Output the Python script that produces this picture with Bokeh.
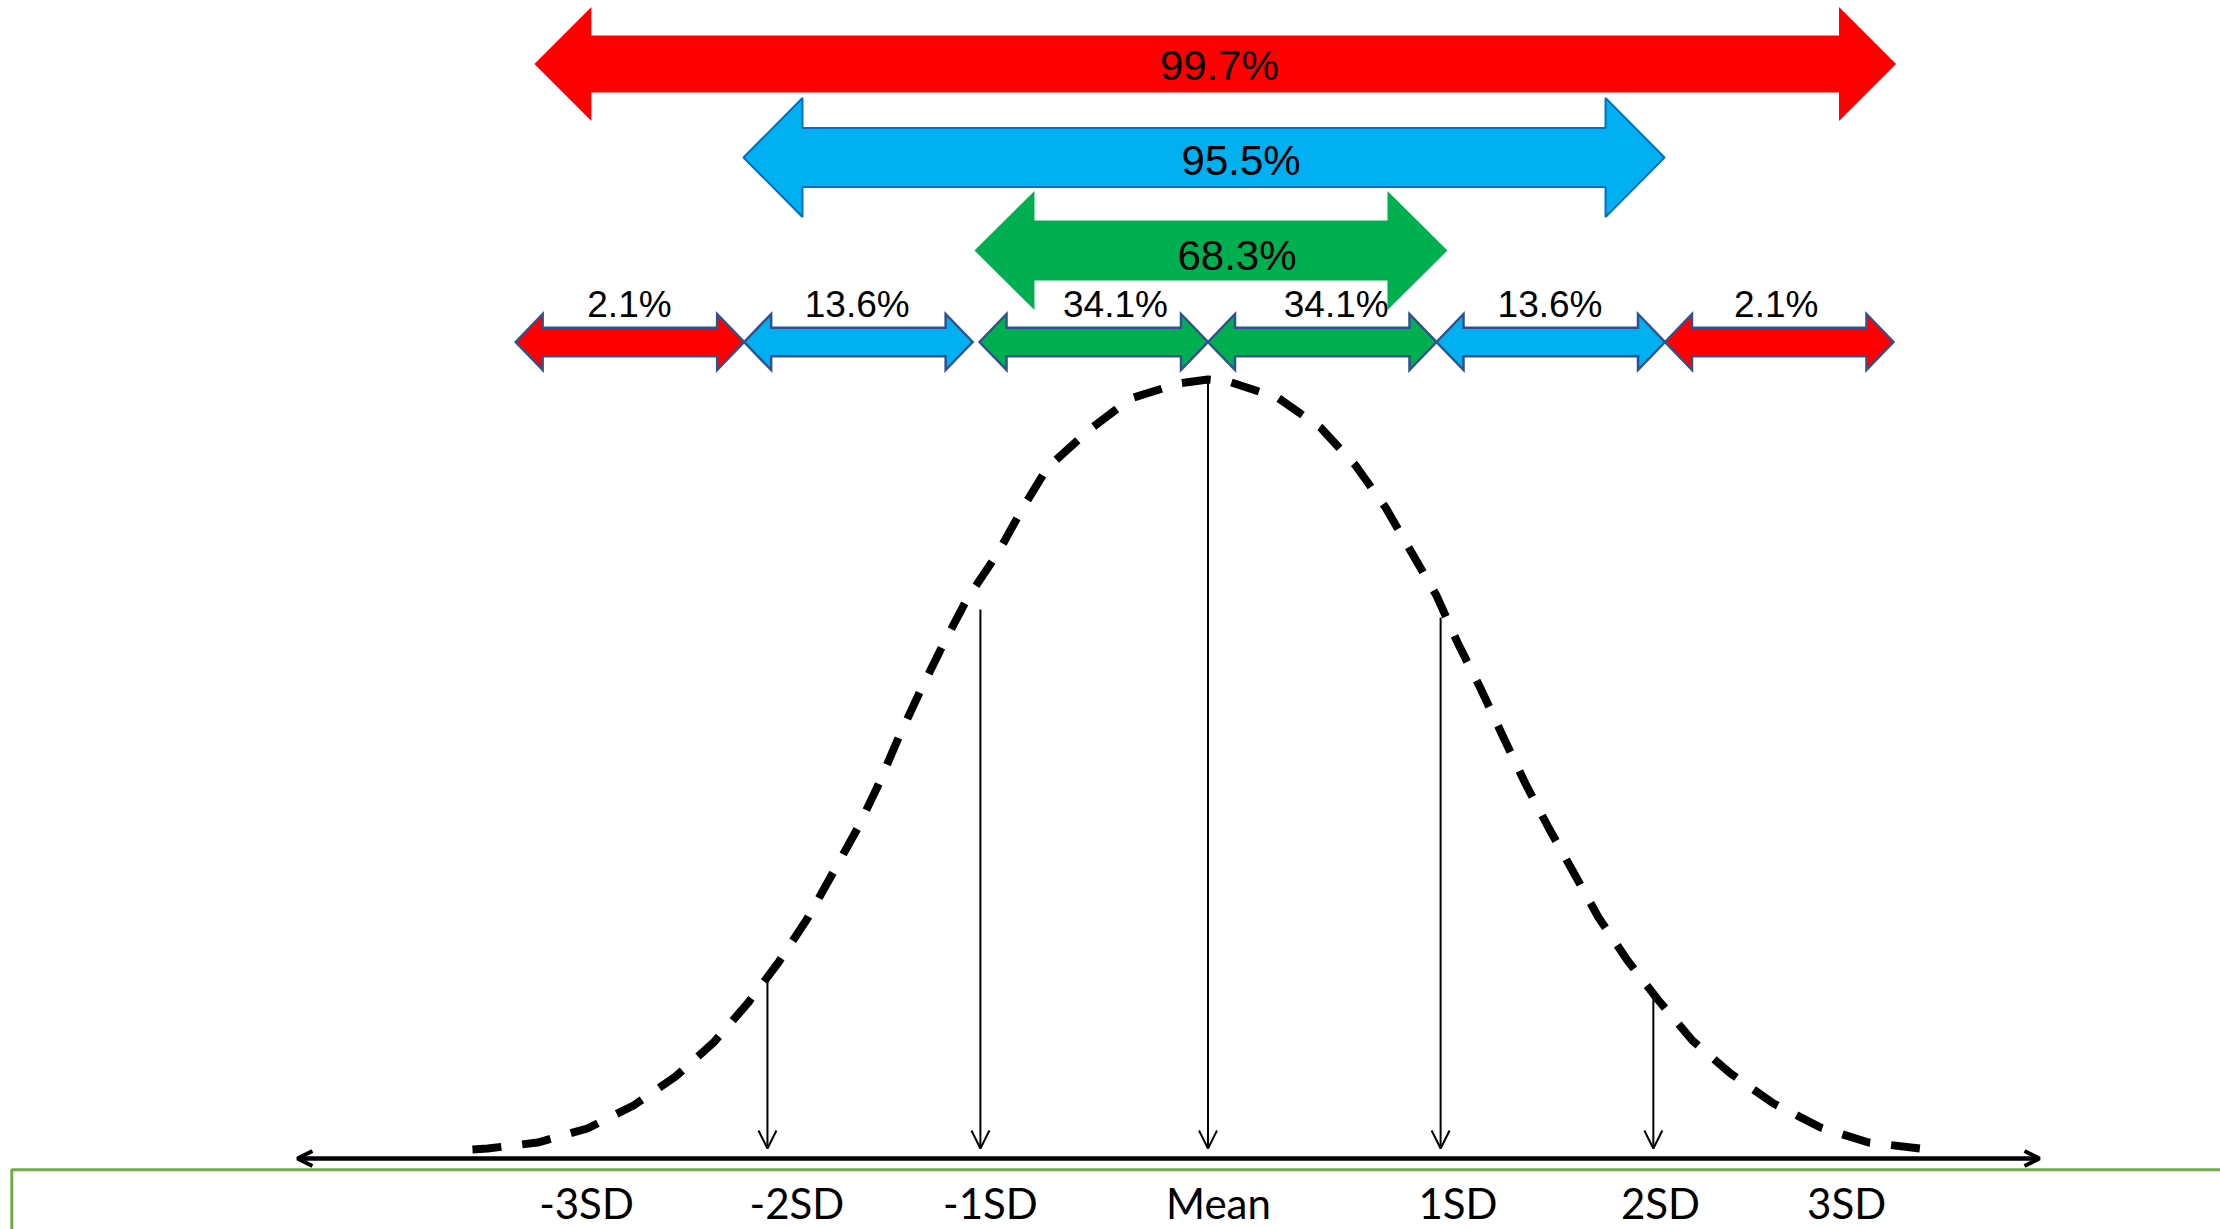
from bokeh.plotting import figure
from bokeh.models import ColumnDataSource, Range1d, Arrow, OpenHead
from bokeh.embed import file_html
from bokeh.resources import INLINE
from bokeh.core.properties import value

# ---------------- data (x in SD units, y = relative density, peak = 1) ----------------
curve_x = [-3.219, -3.153, -2.934, -2.716, -2.514, -2.330, -2.164, -2.015, -1.880, -1.753,
           -1.643, -1.534, -1.446, -1.354, -1.258, -1.157, -1.053, -0.921, -0.812, -0.702,
           -0.523, -0.339, -0.129, 0.0, 0.090, 0.304, 0.492, 0.646, 0.777, 0.886, 1.000,
           1.092, 1.193, 1.289, 1.389, 1.490, 1.600, 1.709, 1.836, 1.972, 2.120, 2.287,
           2.475, 2.681, 2.891, 3.118, 3.184]
curve_y = [0.0116, 0.0128, 0.0205, 0.0385, 0.0680, 0.1053, 0.1489, 0.1990, 0.2516, 0.3081,
           0.3659, 0.4236, 0.4775, 0.5404, 0.6008, 0.6611, 0.7189, 0.7766, 0.8344, 0.8870,
           0.9345, 0.9756, 0.9949, 1.0, 0.9974, 0.9769, 0.9384, 0.8896, 0.8357, 0.7805, 0.7227,
           0.6624, 0.6033, 0.5430, 0.4814, 0.4249, 0.3671, 0.3094, 0.2542, 0.2028, 0.1515, 0.1091,
           0.0706, 0.0398, 0.0205, 0.0128, 0.0128]

sd_labels = ["-3SD", "-2SD", "-1SD", "Mean", "1SD", "2SD", "3SD"]
sd_label_x = [-2.720, -1.799, -0.952, 0.046, 1.094, 1.980, 2.795]

drop_x = [-1.928, -0.996, 0.0, 1.018, 1.949]
drop_top = [0.2323, 0.7047, 1.0, 0.6945, 0.2092]

band_left = [-3.03, -2.03, -1.0, 0.0, 1.0, 2.0]
band_right = [-2.03, -1.03, 0.0, 1.0, 2.0, 3.0]
band_pct = ["2.1%", "13.6%", "34.1%", "34.1%", "13.6%", "2.1%"]
band_label_x = [-2.532, -1.535, -0.405, 0.561, 1.497, 2.487]
band_colors = ["#FF0000", "#00B0F0", "#00B050", "#00B050", "#00B0F0", "#FF0000"]

range_pct = ["99.7%", "95.5%", "68.3%"]
range_left = [-2.948, -2.033, -1.022]
range_right = [3.011, 1.998, 1.048]
range_label_x = [0.050, 0.145, 0.127]
range_colors = ["#FF0000", "#00B0F0", "#00B050"]
range_lines = [None, "#0070C0", None]

axis_x = [-3.985, 3.639]

# ---------------- layout (pixels) ----------------
W, H = 2220, 1229
SD_PX = 228.5      # pixels per SD
UNIT_PX = 779.0    # pixels per unit of relative density
X0_PX = 1207.5     # pixel of x = 0
Y0_PX = 1158.0     # pixel (from top) of y = 0


def dx(px):
    return px / SD_PX


def dy(px):
    return px / UNIT_PX


def yrow(px_from_top):
    return (Y0_PX - px_from_top) / UNIT_PX


x_range = Range1d(-X0_PX / SD_PX, (W - X0_PX) / SD_PX)
y_range = Range1d((Y0_PX - H) / UNIT_PX, Y0_PX / UNIT_PX)

p = figure(width=W, height=H, x_range=x_range, y_range=y_range,
           output_backend="svg", toolbar_location=None, title=None,
           x_axis_location=None, y_axis_location=None, min_border=0)
p.grid.visible = False
p.outline_line_color = None
p.background_fill_color = "white"


def double_arrow(x0, x1, yc, head_len, shaft_half, head_half):
    xs = [x0, x0 + head_len, x0 + head_len, x1 - head_len, x1 - head_len, x1,
          x1 - head_len, x1 - head_len, x0 + head_len, x0 + head_len]
    ys = [yc, yc + head_half, yc + shaft_half, yc + shaft_half, yc + head_half, yc,
          yc - head_half, yc - shaft_half, yc - shaft_half, yc - head_half]
    return xs, ys


# green frame box at bottom
p.quad(left=[-X0_PX / SD_PX + dx(11.3)], right=[10], top=[-dy(11.3)], bottom=[-5],
       fill_color=None, line_color="#70AD47", line_width=3)

# big range arrows
big_rows = [63.5, 157.0, 250.0]
big_shaft = [28.6, 29.5, 30.0]
big_head = [57.0, 59.5, 59.5]
big_len = [57.0, 59.0, 60.0]
for i in range(3):
    xs, ys = double_arrow(range_left[i], range_right[i], yrow(big_rows[i]),
                          dx(big_len[i]), dy(big_shaft[i]), dy(big_head[i]))
    if range_lines[i]:
        p.patch(xs, ys, fill_color=range_colors[i], line_color=range_lines[i], line_width=2)
    else:
        p.patch(xs, ys, fill_color=range_colors[i], line_color=None)

# small band arrows
band_xs, band_ys = [], []
for l, r in zip(band_left, band_right):
    xs, ys = double_arrow(l, r, yrow(341.5), dx(27), dy(14.2), dy(28))
    band_xs.append(xs)
    band_ys.append(ys)
p.patches(xs=band_xs, ys=band_ys, fill_color=band_colors,
          line_color="#2F528F", line_width=2.5, line_join="miter")

# labels (y = visual centre of the glyphs)
big_src = ColumnDataSource(dict(x=range_label_x,
                                y=[yrow(65), yrow(159.5), yrow(254.5)],
                                text=range_pct))
p.text(x="x", y="y", text="text", source=big_src, text_font=value("Liberation Sans"),
       text_font_size=value("42px"), text_align="center", text_baseline="middle",
       text_color="black")

band_src = ColumnDataSource(dict(x=band_label_x, y=[yrow(303.5)] * len(band_pct), text=band_pct))
p.text(x="x", y="y", text="text", source=band_src, text_font=value("Liberation Sans"),
       text_font_size=value("37px"), text_align="center", text_baseline="middle",
       text_color="black")

# normal curve
p.line(curve_x, curve_y, line_color="black", line_width=8, line_dash="29 21", line_cap="butt")

# drop lines
for xv, yt in zip(drop_x, drop_top):
    p.add_layout(Arrow(end=OpenHead(size=18, line_width=2, line_color="black"),
                       x_start=xv, y_start=yt, x_end=xv, y_end=dy(10),
                       line_width=2, line_color="black"))

# horizontal axis arrow
p.add_layout(Arrow(start=OpenHead(size=15, line_width=4, line_color="black"),
                   end=OpenHead(size=15, line_width=4, line_color="black"),
                   x_start=axis_x[0], y_start=0, x_end=axis_x[1], y_end=0,
                   line_width=4.5, line_color="black"))

# axis labels
sd_src = ColumnDataSource(dict(x=sd_label_x, y=[yrow(1202)] * len(sd_labels), text=sd_labels))
p.text(x="x", y="y", text="text", source=sd_src, text_font=value("Lato"),
       text_font_size=value("42px"), text_align="center", text_baseline="middle",
       text_color="black")

open("out.html", "w").write(file_html(p, INLINE))
